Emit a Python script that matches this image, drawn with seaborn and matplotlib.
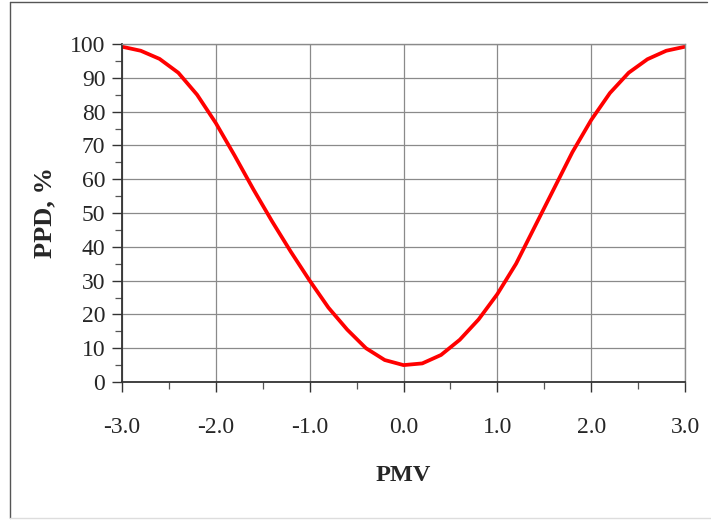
import matplotlib
matplotlib.use("Agg")
import matplotlib.pyplot as plt
import seaborn as sns
import pandas as pd
from matplotlib.ticker import MultipleLocator, FormatStrFormatter
from matplotlib.lines import Line2D

pmv = [-3.0, -2.8, -2.6, -2.4, -2.2, -2.0, -1.8, -1.6, -1.4, -1.2, -1.0,
       -0.8, -0.6, -0.4, -0.2, 0.0, 0.2, 0.4, 0.6, 0.8, 1.0, 1.2, 1.4,
       1.6, 1.8, 2.0, 2.2, 2.4, 2.6, 2.8, 3.0]
ppd = [99.2, 98.0, 95.6, 91.5, 85.0, 76.6, 67.0, 57.0, 47.5, 38.5, 30.0,
       22.0, 15.5, 10.0, 6.5, 5.0, 5.5, 8.0, 12.5, 18.5, 26.0, 35.0, 46.0,
       57.0, 68.0, 77.5, 85.5, 91.5, 95.5, 98.0, 99.2]

df = pd.DataFrame({"PMV": pmv, "PPD": ppd})

sns.set_style("white")
plt.rcParams['font.family'] = ['Liberation Serif', 'DejaVu Serif']

W, H = 711, 520
fig = plt.figure(figsize=(W/100, H/100), dpi=100)
ax = fig.add_axes([122/W, 1 - 382/H, (685-122)/W, (382-44)/H])

# figure frame (left, top dark; bottom faint)
fig.add_artist(Line2D([10/W, 10/W], [1 - 2/H, 1 - 518/H], transform=fig.transFigure,
                      color='#555555', linewidth=1.0))
fig.add_artist(Line2D([10/W, 707/W], [1 - 2/H, 1 - 2/H], transform=fig.transFigure,
                      color='#555555', linewidth=1.0))
fig.add_artist(Line2D([10/W, 1.0], [1 - 518/H, 1 - 518/H], transform=fig.transFigure,
                      color='#dddddd', linewidth=1.0))

sns.lineplot(data=df, x="PMV", y="PPD", ax=ax, color='#ff0000', linewidth=2.7)

ax.set_xlim(-3, 3)
ax.set_ylim(0, 100)
ax.xaxis.set_major_locator(MultipleLocator(1.0))
ax.xaxis.set_minor_locator(MultipleLocator(0.5))
ax.yaxis.set_major_locator(MultipleLocator(10))
ax.yaxis.set_minor_locator(MultipleLocator(5))
ax.xaxis.set_major_formatter(FormatStrFormatter('%.1f'))

ax.grid(True, which='major', color='#8a8a8a', linewidth=0.9)
ax.set_axisbelow(True)

for s in ['top', 'right']:
    ax.spines[s].set_color('#8a8a8a')
    ax.spines[s].set_linewidth(1.0)
for s in ['left', 'bottom']:
    ax.spines[s].set_color('#333333')
    ax.spines[s].set_linewidth(1.3)

ax.tick_params(which='major', direction='out', length=7, width=1.0,
               color='#333333', labelsize=17)
ax.tick_params(which='minor', direction='out', length=5, width=0.9,
               color='#555555')
ax.tick_params(axis='x', which='major', pad=18)
ax.tick_params(axis='y', which='major', pad=5)
ax.tick_params(bottom=True, left=True, which='both')

ax.set_xlabel("PMV", fontsize=17.5, fontweight='bold')
ax.set_ylabel("PPD, %", fontsize=19, fontweight='bold')
ax.xaxis.set_label_coords(0.5, -(465 - 382) / (382 - 44), transform=ax.transAxes)
ax.yaxis.set_label_coords(-(122 - 56) / (685 - 122), 0.5, transform=ax.transAxes)

fig.savefig("out.png", dpi=100)
